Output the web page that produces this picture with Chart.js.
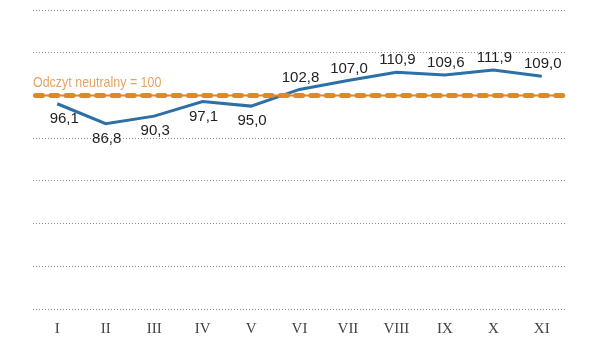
<!DOCTYPE html>
<html>
<head>
<meta charset="utf-8">
<script src="https://cdn.jsdelivr.net/npm/chart.js@4"></script>
<style>
html,body{margin:0;padding:0;background:#fff;}
#wrap{width:609px;height:359px;}
</style>
</head>
<body>
<div id="wrap"><canvas id="c" width="609" height="359"></canvas></div>
<script>
const months = ['I','II','III','IV','V','VI','VII','VIII','IX','X','XI'];
const values = [96.1, 86.8, 90.3, 97.1, 95.0, 102.8, 107.0, 110.9, 109.6, 111.9, 109.0];
const labelSide = ['below','below','below','below','below','above','above','above','above','above','above'];
const neutralValue = 100;
const neutralText = 'Odczyt neutralny = 100';
const yMin = 0, yMax = 140, yStep = 20;

const fmt = v => v.toFixed(1).replace('.', ',');

const refLinePlugin = {
  id: 'refLine',
  afterDatasetsDraw(chart) {
    const {ctx, chartArea, scales} = chart;
    const y = scales.y.getPixelForValue(neutralValue);
    ctx.save();
    ctx.strokeStyle = '#d98a2c';
    ctx.lineWidth = 2;
    ctx.beginPath();
    ctx.moveTo(chartArea.left + 2, y);
    ctx.lineTo(chartArea.right - 1, y);
    ctx.stroke();
    ctx.lineWidth = 5;
    ctx.lineCap = 'round';
    ctx.setLineDash([7, 8.3]);
    ctx.beginPath();
    ctx.moveTo(chartArea.left + 2.5, y);
    ctx.lineTo(chartArea.right - 2, y);
    ctx.stroke();
    ctx.setLineDash([]);
    // caption
    ctx.fillStyle = '#e6a263';
    ctx.font = '15px "Liberation Sans", Arial, sans-serif';
    ctx.textAlign = 'left';
    ctx.textBaseline = 'middle';
    ctx.save();
    ctx.translate(chartArea.left, y - 13);
    ctx.scale(0.83, 1);
    ctx.fillText(neutralText, 0, 0);
    ctx.restore();
    // data labels
    const meta = chart.getDatasetMeta(0);
    ctx.fillStyle = '#222';
    ctx.font = '15px "Liberation Sans", Arial, sans-serif';
    ctx.textAlign = 'center';
    meta.data.forEach((pt, i) => {
      const dy = labelSide[i] === 'above' ? -12 : 15;
      ctx.fillText(fmt(values[i]), pt.x + (i === 0 ? 7 : 1), pt.y + dy);
    });
    ctx.restore();
  }
};

new Chart(document.getElementById('c'), {
  type: 'line',
  data: {
    labels: months,
    datasets: [{
      data: values,
      borderColor: '#2d6fa7',
      borderWidth: 3,
      pointRadius: 0,
      tension: 0,
      fill: false
    }]
  },
  options: {
    responsive: false,
    animation: false,
    layout: {padding: {left: 33, right: 43, top: 10, bottom: 18}},
    plugins: {legend: {display: false}, tooltip: {enabled: false}},
    scales: {
      x: {
        offset: true,
        grid: {display: false},
        border: {display: false},
        ticks: {font: {family: '"Liberation Serif", serif', size: 15}, color: '#444', padding: 3}
      },
      y: {
        min: yMin, max: yMax,
        ticks: {display: false, stepSize: yStep},
        border: {display: false, dash: [1, 2]},
        grid: {color: '#8a8a8a', lineWidth: 1, drawTicks: false, tickLength: 0},
        afterFit(scale) { scale.width = 0; }
      }
    }
  },
  plugins: [refLinePlugin]
});
</script>
</body>
</html>
